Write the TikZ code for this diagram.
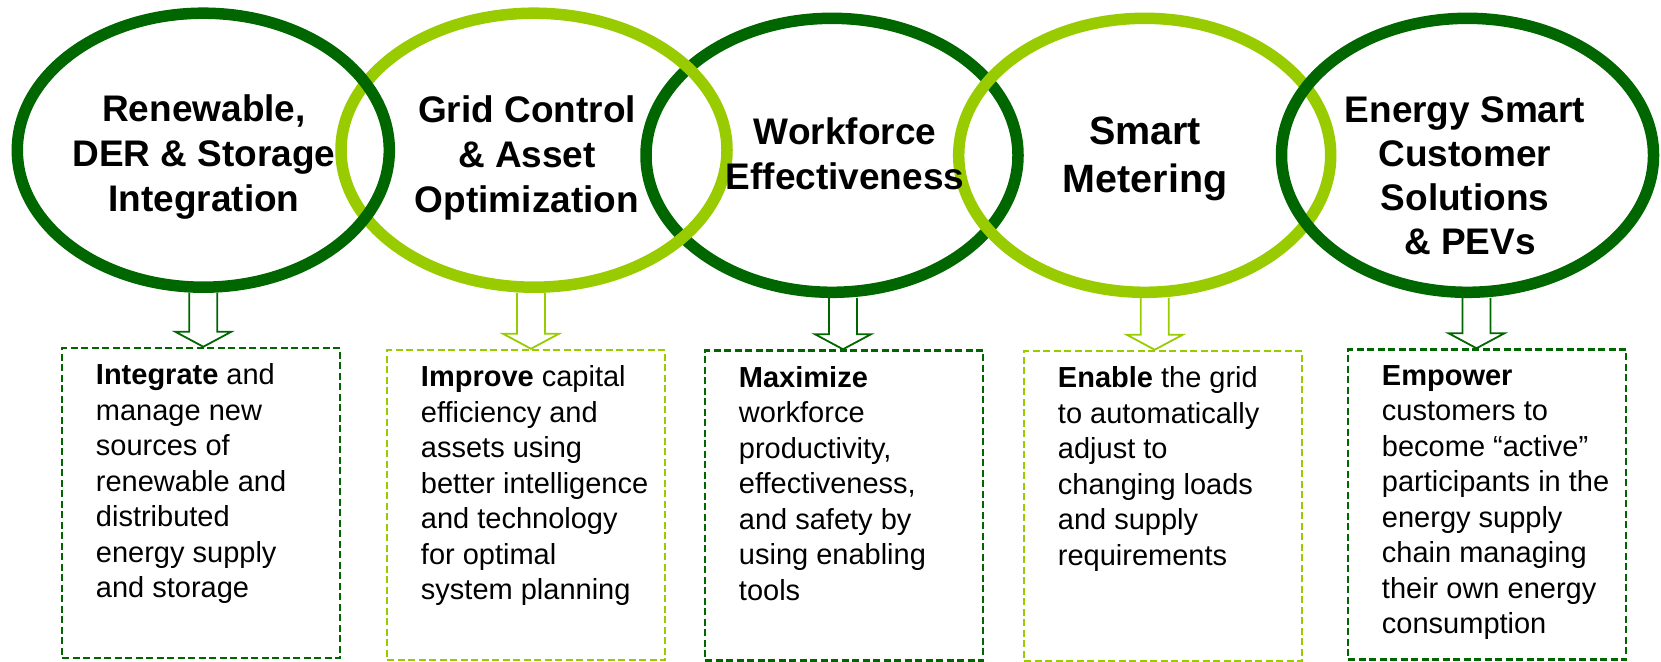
\documentclass[tikz,border=0pt]{standalone}
\usepackage{fontspec}
\setmainfont{Liberation Sans}
\usepackage{xcolor}
\usepackage{tikz}
\usetikzlibrary{shapes.geometric, calc, positioning}

\definecolor{dkgreen}{HTML}{006600}
\definecolor{ltgreen}{HTML}{99CC00}

\begin{document}
\begin{tikzpicture}[
    x=1pt, y=-1pt,
    ring/.style={ellipse, draw=#1, line width=11.5pt, minimum width=372pt, minimum height=274pt, inner sep=0pt},
    blurb/.style={rectangle, draw=#1, dash pattern=on 7pt off 3.5pt, line width=2.5pt, minimum width=278pt, minimum height=310pt, inner sep=0pt},
    title/.style={align=center, inner sep=0pt, font=\fontsize{37}{45}\selectfont\bfseries},
    body/.style={align=left, inner sep=0pt, anchor=north west, font=\fontsize{29}{35.5}\selectfont},
    hollowarrow/.style={draw=#1, line width=1.8pt, line join=miter}
]
    \useasboundingbox (0,0) rectangle (1661,661);

    % dashed boxes
    \node[blurb=dkgreen] (integrate) at (201,503) {};
    \node[blurb=ltgreen] (improve) at (526,505) {};
    \node[blurb=dkgreen] (maximize) at (844,505.5) {};
    \node[blurb=ltgreen] (enable) at (1163,506) {};
    \node[blurb=dkgreen] (empower) at (1487,504.5) {};

    % rings
    \node[ring=dkgreen] (workforce) at (832,155.3) {};
    \node[ring=ltgreen, minimum width=386pt] (gridctl) at (534,150.2) {};
    \node[ring=dkgreen] (renew) at (203.3,150.2) {};
    \node[ring=ltgreen] (metering) at (1144.7,155.3) {};
    \node[ring=dkgreen] (customer) at (1467.5,155.3) {};

    % hollow arrows
    \foreach \src/\dst/\dx/\col in {renew/integrate/0/dkgreen, gridctl/improve/-3/ltgreen, workforce/maximize/11/dkgreen, metering/enable/10/ltgreen, customer/empower/9/dkgreen}
        \draw[hollowarrow=\col] let \p1=([xshift=\dx pt]\src.south), \p2=(\dst.north) in
            (\x1-14pt,\y1) -- (\x1-14pt,\y2+15pt) -- (\x1-28pt,\y2+15pt) -- (\x1,\y2)
            -- (\x1+28pt,\y2+15pt) -- (\x1+14pt,\y2+15pt) -- (\x1+14pt,\y1);

    % ring titles
    \node[title] (renewtxt) at (204,157.5) {Renewable,\\DER \& Storage\\Integration};
    \node[title] (gridtxt) at (527,157.5) {Grid Control\\\& Asset\\Optimization};
    \node[title] (worktxt) at (845,154) {Workforce\\Effectiveness};
    \node[title, font=\fontsize{39.5}{48}\selectfont\bfseries] (metertxt) at (1145,159) {Smart\\Metering};
    \node[title, font=\fontsize{37}{44}\selectfont\bfseries] (custtxt) at (1465,176) {Energy Smart\\Customer\\Solutions\\~\& PEVs};

    % box texts
    \node[body] (integratetxt) at ([xshift=35pt,yshift=-17pt]integrate.north west)
        {\textbf{Integrate} and\\manage new\\sources of\\renewable and\\distributed\\energy supply\\and storage};
    \node[body] (improvetxt) at ([xshift=35pt,yshift=-17pt]improve.north west)
        {\textbf{Improve} capital\\efficiency and\\assets using\\better intelligence\\and technology\\for optimal\\system planning};
    \node[body] (maximizetxt) at ([xshift=35pt,yshift=-17pt]maximize.north west)
        {\textbf{Maximize}\\workforce\\productivity,\\effectiveness,\\and safety by\\using enabling\\tools};
    \node[body] (enabletxt) at ([xshift=35pt,yshift=-17pt]enable.north west)
        {\textbf{Enable} the grid\\to automatically\\adjust to\\changing loads\\and supply\\requirements};
    \node[body] (empowertxt) at ([xshift=35pt,yshift=-17pt]empower.north west)
        {\textbf{Empower}\\customers to\\become “active”\\participants in the\\energy supply\\chain managing\\their own energy\\consumption};
\end{tikzpicture}
\end{document}
